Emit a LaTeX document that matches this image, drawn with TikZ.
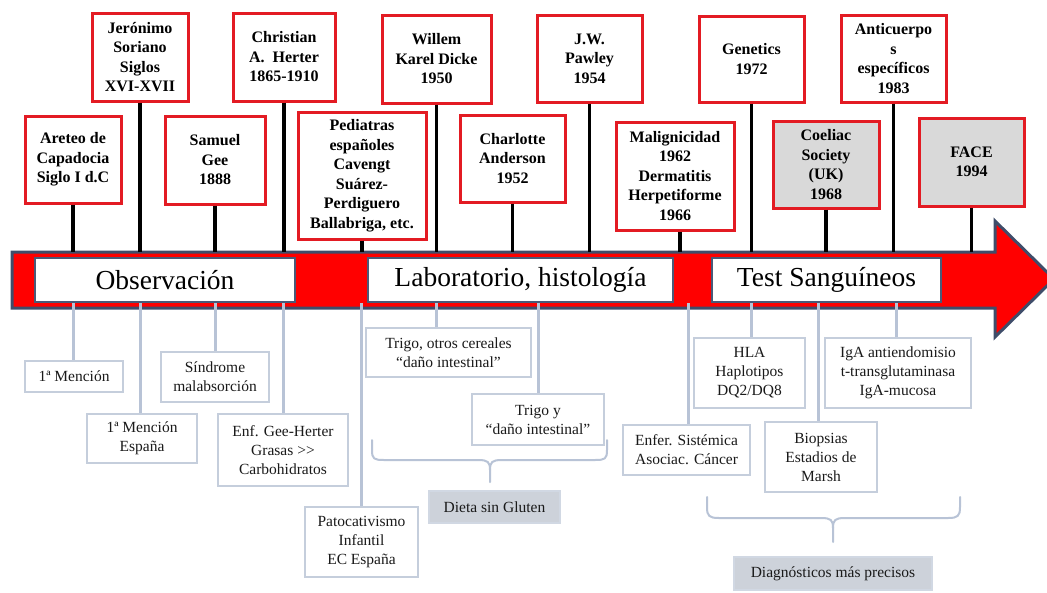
\documentclass[tikz,border=0pt]{standalone}
\usepackage{fontspec}
\setmainfont{Liberation Serif}
\definecolor{boxred}{HTML}{E31B23}
\definecolor{arrowred}{HTML}{FF0000}
\definecolor{arrowline}{HTML}{3F4D6A}
\definecolor{labelborder}{HTML}{4A5A78}
\definecolor{conn}{HTML}{B8C3D6}
\definecolor{bborder}{HTML}{C5CEDC}
\definecolor{topgray}{HTML}{D9D9D9}
\definecolor{botgray}{HTML}{CDD2DA}
\definecolor{txt}{HTML}{1A1A1A}
\begin{document}
\begin{tikzpicture}[x=1pt,y=-1pt,
  topbox/.style={draw=boxred, line width=3pt, fill=white, align=center, inner sep=0pt,
    font=\bfseries\fontsize{16}{19.5}\selectfont},
  graybox/.style={topbox, fill=topgray},
  phase/.style={draw=labelborder, line width=2pt, fill=white, inner sep=0pt,
    font=\fontsize{27.5}{31}\selectfont},
  botbox/.style={draw=bborder, line width=2.5pt, fill=white, align=center, inner sep=0pt,
    text=txt, font=\fontsize{15.5}{19}\selectfont},
  botgraybox/.style={botbox, draw=bborder!80, fill=botgray},
  stem/.style={line width=3.5pt, black},
  link/.style={line width=3pt, conn},
  brace/.style={line width=2pt, conn, line cap=round, line join=round}]
\useasboundingbox (0,0) rectangle (1047,592);
\fill[white] (0,0) rectangle (1047,592);

% main arrow
\draw[fill=arrowred, draw=arrowline, line width=3pt, line join=miter]
  (12,252) -- (995,252) -- (995,221) -- (1054,279) -- (995,337) -- (995,308) -- (12,308) -- cycle;
\coordinate (arrowtop) at (0,252);

% phase labels
\node[phase, minimum width=260pt, minimum height=44pt] (obs) at (165,280) {Observación};
\node[phase, minimum width=305pt, minimum height=44pt] (lab) at (520.5,280) {Laboratorio, histología};
\node[phase, minimum width=229pt, minimum height=44pt] (test) at (826.5,280) {Test Sanguíneos};

% top boxes
\node[topbox, minimum width=96pt, minimum height=87pt] (areteo) at (73,159.5) {Areteo de\\Capadocia\\Siglo I d.C};
\node[topbox, minimum width=96pt, minimum height=88pt] (jeronimo) at (140,57) {Jerónimo\\Soriano\\Siglos\\XVI-XVII};
\node[topbox, minimum width=100pt, minimum height=88pt] (gee) at (215,160) {Samuel\\Gee\\1888};
\node[topbox, minimum width=102pt, minimum height=88pt] (herter) at (284,57) {Christian\\A.\ \ Herter\\1865-1910};
\node[topbox, minimum width=128pt, minimum height=127pt] (pediatras) at (362,175.5) {Pediatras\\españoles\\Cavengt\\Suárez-\\Perdiguero\\Ballabriga, etc.};
\node[topbox, minimum width=109pt, minimum height=88pt] (dicke) at (436.5,59) {Willem\\Karel Dicke\\1950};
\node[topbox, minimum width=105pt, minimum height=87pt] (anderson) at (512.5,158.5) {Charlotte\\Anderson\\1952};
\node[topbox, minimum width=105pt, minimum height=87pt] (pawley) at (589.5,58.5) {J.W.\\Pawley\\1954};
\node[topbox, minimum width=118pt, minimum height=108pt] (malig) at (675,176) {Malignicidad\\1962\\Dermatitis\\Herpetiforme\\1966};
\node[topbox, minimum width=105pt, minimum height=86pt] (genetics) at (751.5,59) {Genetics\\1972};
\node[graybox, minimum width=106pt, minimum height=87pt] (coeliac) at (826,164.5) {Coeliac\\Society\\(UK)\\1968};
\node[topbox, minimum width=105pt, minimum height=87pt] (anti) at (893.5,58.5) {Anticuerpo\\s\\específicos\\1983};
\node[graybox, minimum width=105pt, minimum height=88pt] (face) at (971.5,162) {FACE\\1994};

% stems
\foreach \n in {areteo,jeronimo,gee,herter,pediatras,dicke,anderson,pawley,genetics,coeliac,anti,face}
  \draw[stem] (\n.south) -- (\n.south |- arrowtop);
\draw[stem] ([xshift=5pt]malig.south) -- ([xshift=5pt]malig.south |- arrowtop);

% bottom boxes
\node[botbox, minimum width=98pt, minimum height=31pt] (m1) at (74,376.5) {1ª Mención};
\node[botbox, minimum width=110pt, minimum height=49pt] (m2) at (142,438.5) {1ª Mención\\España};
\node[botbox, minimum width=108pt, minimum height=50pt] (sind) at (215,377) {Síndrome\\malabsorción};
\node[botbox, minimum width=130pt, minimum height=72pt] (enf) at (283,450) {Enf. Gee-Herter\\Grasas >{}>\\Carbohidratos};
\node[botbox, minimum width=113pt, minimum height=70pt] (pato) at (361.5,542) {Patocativismo\\Infantil\\EC España};
\node[botbox, minimum width=165pt, minimum height=49pt] (trigo1) at (448.5,352.5) {Trigo, otros cereales\\“daño intestinal”};
\node[botbox, minimum width=132pt, minimum height=51pt] (trigo2) at (538,419.5) {Trigo y\\“daño intestinal”};
\node[botgraybox, minimum width=131pt, minimum height=32pt] (dieta) at (494.5,507) {Dieta sin Gluten};
\node[botbox, minimum width=127pt, minimum height=50pt] (enfer) at (686.5,450) {Enfer. Sistémica\\Asociac. Cáncer};
\node[botbox, minimum width=111pt, minimum height=70pt] (hla) at (749.5,373) {HLA\\Haplotipos\\DQ2/DQ8};
\node[botbox, minimum width=112pt, minimum height=70pt] (biop) at (821,457) {Biopsias\\Estadios de\\Marsh};
\node[botbox, minimum width=146pt, minimum height=70pt] (iga) at (898,373) {IgA antiendomisio\\t-transglutaminasa\\IgA-mucosa};
\node[botgraybox, minimum width=198pt, minimum height=33pt] (diag) at (833,573.5) {Diagnósticos más precisos};

% links from the arrow
\draw[link] ([xshift=-1pt]m1.north) -- ([xshift=-1pt]m1.north |- obs.south);
\draw[link] ([xshift=-2pt]m2.north) -- ([xshift=-2pt]m2.north |- obs.south);
\draw[link] (sind.north) -- (sind.north |- obs.south);
\draw[link] (enf.north) -- (enf.north |- obs.south);
\draw[link] (pato.north) -- (pato.north |- obs.south);
\draw[link] ([xshift=-12.5pt]trigo1.north) -- ([xshift=-12.5pt]trigo1.north |- lab.south);
\draw[link] (trigo2.north) -- (trigo2.north |- lab.south);
\draw[link] ([xshift=1.5pt]enfer.north) -- ([xshift=1.5pt]enfer.north |- lab.south);
\draw[link] ([xshift=1.5pt]hla.north) -- ([xshift=1.5pt]hla.north |- test.south);
\draw[link] ([xshift=-3pt]biop.north) -- ([xshift=-3pt]biop.north |- test.south);
\draw[link] ([xshift=-2pt]iga.north) -- ([xshift=-2pt]iga.north |- test.south);

% braces
\draw[brace] (372,440) -- (372,450) .. controls (372,459) and (374,460) .. (384,460) -- (478,460)
  .. controls (488,460) and (490,462) .. (490,470) -- (490,482);
\draw[brace] (490,470) .. controls (490,462) and (492,460) .. (502,460) -- (595,460)
  .. controls (605,460) and (607,459) .. (607,450) -- (607,440);
\draw[brace] (707,497) -- (707,507) .. controls (707,516) and (709,518) .. (719,518) -- (821,518)
  .. controls (831,518) and (833,520) .. (833,528) -- (833,542);
\draw[brace] (833,528) .. controls (833,520) and (835,518) .. (845,518) -- (948,518)
  .. controls (958,518) and (960,516) .. (960,507) -- (960,497);
\end{tikzpicture}
\end{document}
